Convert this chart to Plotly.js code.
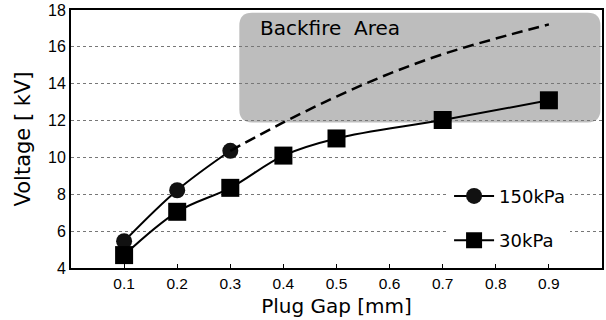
<!DOCTYPE html>
<html>
<head>
<meta charset="utf-8">
<script src="https://cdn.plot.ly/plotly-3.0.1.min.js"></script>
<style>html,body{margin:0;padding:0;background:#fff;}#chart{width:606px;height:320px;}</style>
</head>
<body>
<div id="chart"></div>
<script>
// Data
const gap150 = [0.1, 0.2, 0.3];
const volt150 = [5.45, 8.22, 10.36];
const gap150Extrap = [0.3, 0.4, 0.5, 0.6, 0.7, 0.8, 0.9];
const volt150Extrap = [10.36, 11.9, 13.3, 14.55, 15.6, 16.45, 17.22];
const gap30 = [0.1, 0.2, 0.3, 0.4, 0.5, 0.7, 0.9];
const volt30 = [4.7, 7.05, 8.35, 10.1, 11.03, 12.03, 13.1];
const xTicks = [0.1, 0.2, 0.3, 0.4, 0.5, 0.6, 0.7, 0.8, 0.9];
const xTickText = ['0.1', '0.2', '0.3', '0.4', '0.5', '0.6', '0.7', '0.8', '0.9'];
const yTicks = [4, 6, 8, 10, 12, 14, 16, 18];
const seriesNames = ['150kPa', '30kPa'];
const areaLabel = 'Backfire  Area';

const traces = [
  {
    x: gap150, y: volt150, name: seriesNames[0], legendgroup: 'a',
    mode: 'lines+markers', type: 'scatter',
    line: {color: '#000', width: 2, shape: 'spline', smoothing: 1},
    marker: {symbol: 'circle', size: 16, color: '#111'}
  },
  {
    x: gap150Extrap, y: volt150Extrap, showlegend: false, legendgroup: 'a',
    mode: 'lines', type: 'scatter',
    line: {color: '#000', width: 2.5, dash: '11px,6px', shape: 'spline', smoothing: 1}
  },
  {
    x: gap30, y: volt30, name: seriesNames[1], legendgroup: 'b',
    mode: 'lines+markers', type: 'scatter',
    line: {color: '#000', width: 2, shape: 'spline', smoothing: 1},
    marker: {symbol: 'square', size: 18, color: '#000'}
  }
];

// rounded rectangle of the backfire area (layout decoration)
const ax0 = 0.317, ax1 = 0.997, ay0 = 11.9, ay1 = 17.85, rx = 0.024, ry = 0.7;
const areaPath = `M ${ax0+rx},${ay1} L ${ax1-rx},${ay1} Q ${ax1},${ay1} ${ax1},${ay1-ry} L ${ax1},${ay0+ry} Q ${ax1},${ay0} ${ax1-rx},${ay0} L ${ax0+rx},${ay0} Q ${ax0},${ay0} ${ax0},${ay0+ry} L ${ax0},${ay1-ry} Q ${ax0},${ay1} ${ax0+rx},${ay1} Z`;

const layout = {
  width: 606, height: 320,
  margin: {l: 71, r: 4, t: 10, b: 52},
  paper_bgcolor: '#fff', plot_bgcolor: '#fff',
  font: {family: 'Liberation Sans, Arial, sans-serif', color: '#000'},
  showlegend: true,
  legend: {
    x: 0.712, y: 0.35, xanchor: 'left', yanchor: 'top',
    bgcolor: '#fff', borderwidth: 0,
    font: {family: 'DejaVu Sans', size: 18, color: '#000'},
    tracegroupgap: 18, traceorder: 'grouped', itemwidth: 40
  },
  xaxis: {
    range: [0, 1], tickvals: xTicks, ticktext: xTickText,
    ticks: 'inside', ticklen: 4, tickcolor: '#000',
    showgrid: false, zeroline: false,
    showline: true, linecolor: '#000', linewidth: 2, mirror: true,
    tickfont: {family: 'Liberation Sans', size: 15.5, color: '#000'},
    title: {text: 'Plug Gap [mm]', font: {family: 'DejaVu Sans', size: 20, color: '#000'}, standoff: 8}
  },
  yaxis: {
    range: [4, 18], tickvals: yTicks,
    ticks: '', showgrid: true, gridcolor: '#777', griddash: 'dot', gridwidth: 1,
    zeroline: false,
    showline: true, linecolor: '#000', linewidth: 2, mirror: true,
    tickfont: {family: 'Liberation Sans', size: 16, color: '#000'},
    title: {text: 'Voltage [ kV]', font: {family: 'DejaVu Sans', size: 21, color: '#000'}, standoff: 12}
  },
  shapes: [
    {type: 'path', xref: 'x', yref: 'y', path: areaPath, layer: 'below',
     fillcolor: '#bdbdbd', line: {width: 0}}
  ],
  annotations: [
    {x: 0.352, y: 17.05, xref: 'x', yref: 'y', text: areaLabel, showarrow: false,
     xanchor: 'left', yanchor: 'middle',
     font: {family: 'DejaVu Sans', size: 20, color: '#000'}}
  ]
};

Plotly.newPlot('chart', traces, layout, {staticPlot: true, displayModeBar: false});
</script>
</body>
</html>
